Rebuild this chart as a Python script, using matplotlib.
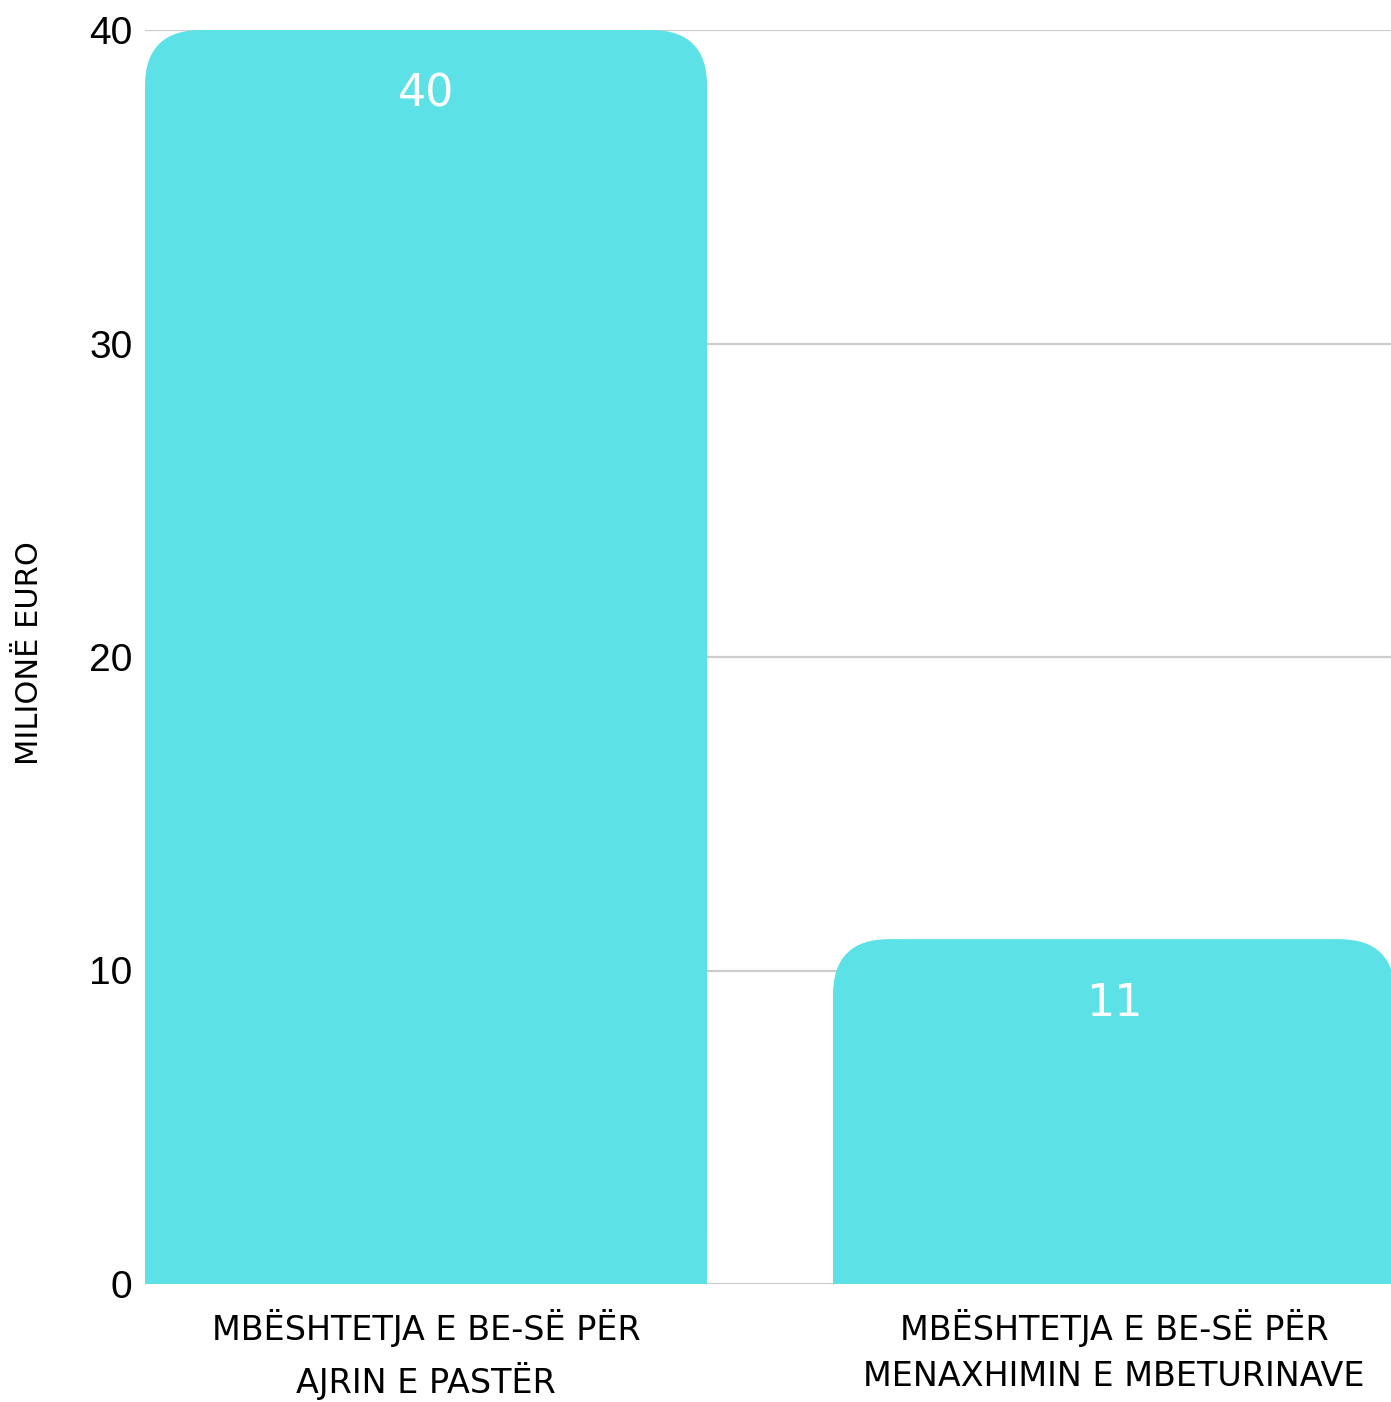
import matplotlib
matplotlib.use("Agg")
import matplotlib.pyplot as plt
from matplotlib.patches import FancyBboxPatch, Rectangle

categories = ["MBËSHTETJA E BE-SË PËR\nAJRIN E PASTËR",
              "MBËSHTETJA E BE-SË PËR\nMENAXHIMIN E MBETURINAVE"]
values = [40, 11]
yticks = [0, 10, 20, 30, 40]
ylabel = "MILIONË EURO"

BAR_COLOR = "#5ce1e6"
COND = ["DejaVu Sans"]

W, H = 1391, 1402
fig = plt.figure(figsize=(W / 100, H / 100), dpi=100)
ax = fig.add_axes([145 / W, 1 - 1284 / H, 1 - 145 / W, (1284 - 30) / H])

x = list(range(len(categories)))
bars = ax.bar(x, values, width=0.817, color=BAR_COLOR, zorder=2)
ax.set_xlim(-0.4085, 1.4026)
ax.set_ylim(0, 40)

ax_w_px = W - 145
ax_h_px = 1284 - 30
xu_per_px = (1.4026 + 0.4085) / ax_w_px
yu_per_px = 40 / ax_h_px
r_px = 56
for b in bars:
    b.set_visible(False)
    x0, y0 = b.get_x(), b.get_y()
    w, h = b.get_width(), b.get_height()
    rx = r_px * xu_per_px
    ry = r_px * yu_per_px
    p = FancyBboxPatch((x0, y0), w, h,
                       boxstyle=f"round,pad=0,rounding_size={rx}",
                       mutation_aspect=yu_per_px / xu_per_px,
                       facecolor=BAR_COLOR, edgecolor="none", zorder=2)
    ax.add_patch(p)
    ax.add_patch(Rectangle((x0, y0), w, h - ry * 1.2, facecolor=BAR_COLOR,
                           edgecolor="none", zorder=2))
    ax.text(x0 + w / 2, h - 64 * yu_per_px, f"{h:g}", color="white",
            ha="center", va="center", fontsize=32, family=COND, zorder=3)

ax.set_yticks(yticks)
ax.set_yticklabels([str(t) for t in yticks], family=["Liberation Sans", "DejaVu Sans"],
                   fontsize=28)
ax.grid(axis="y", color="#cccccc", linewidth=1.6, zorder=0)
ax.set_axisbelow(True)
ax.tick_params(axis="y", length=0, pad=9)
ax.tick_params(axis="x", length=0, pad=18)
ax.set_xticks(x)
ax.set_xticklabels(categories, family=COND, fontsize=24, linespacing=1.5)
for s in ax.spines.values():
    s.set_visible(False)

fig.text(30 / W, 1 - 653 / H, ylabel, rotation=90, ha="center", va="center",
         family=COND, fontsize=22)

fig.savefig("out.png", dpi=100)
